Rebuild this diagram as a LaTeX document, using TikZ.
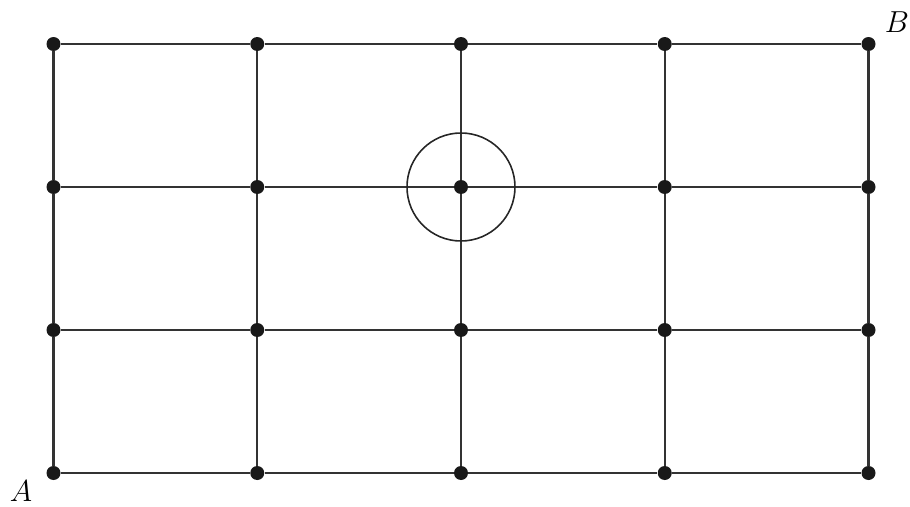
\documentclass[tikz,border=0pt]{standalone}
\usepackage{tikz}
\usetikzlibrary{positioning}

\begin{document}
\begin{tikzpicture}[
  pt/.style={circle, fill=black!90, inner sep=0pt, minimum size=0.28cm},
  edge/.style={draw=black!80, line width=1.15pt},
  ring/.style={circle, draw=black!85, line width=0.9pt, inner sep=0pt,
               minimum size=2.16cm},
  lbl/.style={font=\fontsize{17}{19}\selectfont}
]
\useasboundingbox (0,0) rectangle (18.2,10.12);

% grid points
\foreach \i in {0,...,4} {
  \foreach \j in {0,...,3} {
    \pgfmathsetmacro{\x}{1.07 + \i*4.075}
    \pgfmathsetmacro{\y}{0.66 + \j*2.86}
    \node[pt] (p-\i-\j) at (\x, \y) {};
  }
}

% horizontal streets
\foreach \i/\k in {0/1,1/2,2/3,3/4} {
  \foreach \j in {0,...,3} {
    \draw[edge] (p-\i-\j) -- (p-\k-\j);
  }
}
% vertical streets
\foreach \j/\k in {0/1,1/2,2/3} {
  \foreach \i in {0,...,4} {
    \draw[edge] (p-\i-\j) -- (p-\i-\k);
  }
}

\node[ring] (mark) at (p-2-2) {};

\node[lbl] (a) at (0.42, 0.3) {$A$};
\node[lbl] (b) at (17.94, 9.68) {$B$};
\end{tikzpicture}
\end{document}
